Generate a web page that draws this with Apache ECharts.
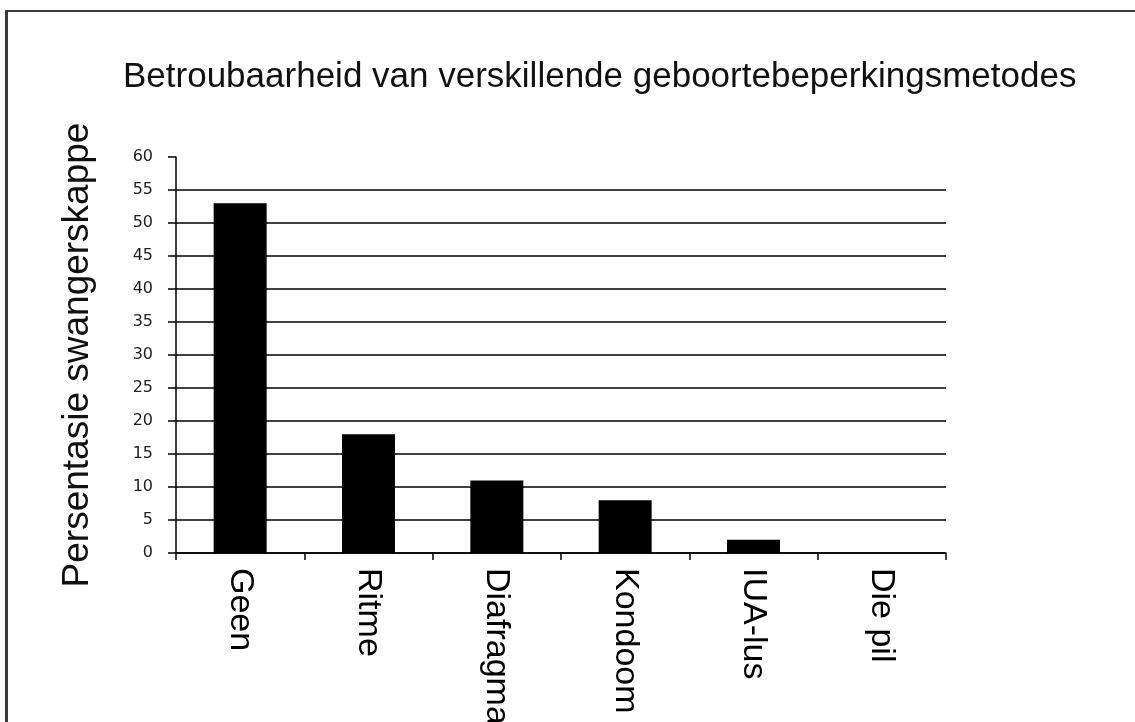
<!DOCTYPE html>
<html>
<head>
<meta charset="utf-8">
<title>Betroubaarheid van verskillende geboortebeperkingsmetodes</title>
<script src="https://cdn.jsdelivr.net/npm/echarts@6/dist/echarts.min.js"></script>
<style>
  html, body { margin: 0; padding: 0; background: #fff; }
  #wrap { position: relative; width: 1135px; height: 722px; overflow: hidden; }
  #frame { position: absolute; left: 5px; top: 10px; right: -10px; bottom: -10px;
           border-top: 2px solid #3a3a3a; border-left: 3px solid #3a3a3a; pointer-events: none; }
  #chart { position: absolute; left: 0; top: 0; width: 1135px; height: 722px; }
</style>
</head>
<body>
<div id="wrap">
  <div id="chart"></div>
  <div id="frame"></div>
</div>
<script>
// Percentage of pregnancies per contraception method.
var TITLE = "Betroubaarheid van verskillende geboortebeperkingsmetodes";
var Y_NAME = "Persentasie swangerskappe";
var METHODS = ["Geen", "Ritme", "Diafragma", "Kondoom", "IUA-lus", "Die pil"];
var PREGNANCY_PCT = [53, 18, 11, 8, 2, 0];
var Y_MIN = 0, Y_MAX = 60, Y_STEP = 5;

var SANS = '"Liberation Sans", Arial, sans-serif';

var chart = echarts.init(document.getElementById("chart"));
chart.setOption({
  animation: false,
  backgroundColor: "#fff",
  title: {
    text: TITLE, left: 118, top: 55,
    textStyle: { fontFamily: SANS, fontSize: 35, fontWeight: "normal", color: "#111" }
  },
  // labels hang below the plot and get clipped, as in the original: keep the grid fixed
  grid: { left: 176, right: 189, top: 157, bottom: 169, containLabel: false, outerBoundsMode: "none" },
  xAxis: {
    type: "category", data: METHODS,
    axisLine: { lineStyle: { color: "#000", width: 1.5 } },
    axisTick: { show: true, length: 7, lineStyle: { color: "#000", width: 1.5 } },
    axisLabel: { rotate: -90, margin: 15, fontFamily: SANS, fontSize: 34, color: "#000" },
    splitLine: { show: false }
  },
  yAxis: {
    type: "value", min: Y_MIN, max: Y_MAX, interval: Y_STEP,
    name: Y_NAME, nameLocation: "middle", nameRotate: 90, nameGap: 80,
    nameTextStyle: { fontFamily: SANS, fontSize: 37, color: "#111" },
    axisLine: { show: true, lineStyle: { color: "#000", width: 1.5 } },
    axisTick: { show: true, inside: false, length: 8, lineStyle: { color: "#000", width: 1.5 } },
    axisLabel: { margin: 23, fontFamily: '"DejaVu Sans", sans-serif', fontSize: 16, color: "#222" },
    splitLine: { show: true, showMaxLine: false, lineStyle: { color: "#000", width: 1.5 } }
  },
  series: [{
    type: "bar", data: PREGNANCY_PCT, barWidth: 53,
    itemStyle: { color: "#000" }
  }]
});
</script>
</body>
</html>
